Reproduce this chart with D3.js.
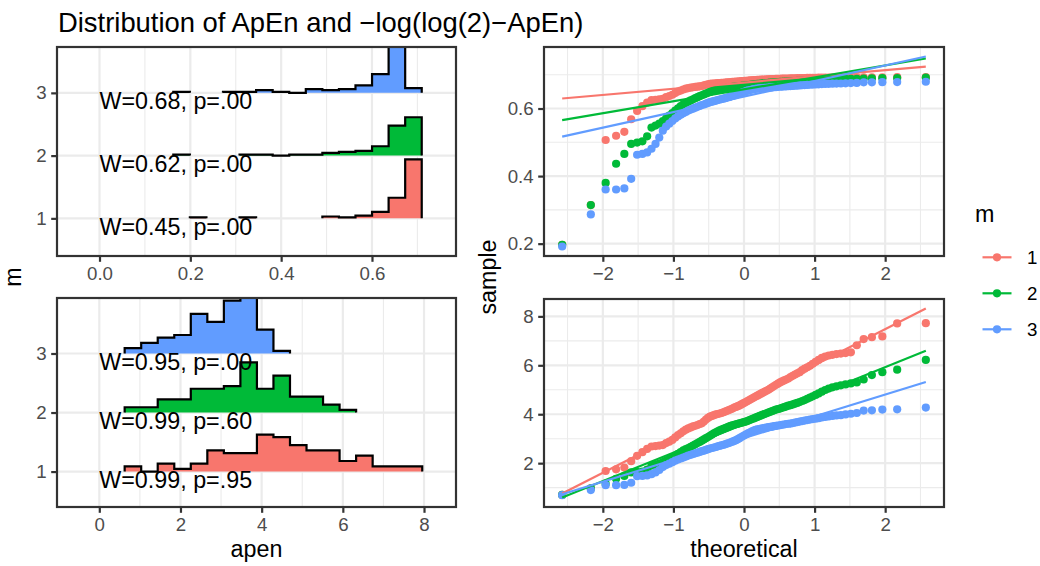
<!DOCTYPE html>
<html>
<head>
<meta charset="utf-8">
<script src="https://cdn.jsdelivr.net/npm/d3@7"></script>
<style>
  body { margin: 0; background: #fff; }
  text { font-family: "Liberation Sans", Arial, sans-serif; }
</style>
</head>
<body>
<script>
// ---- data -------------------------------------------------------------
var groups = [1, 2, 3];
var groupColors = ['#F8766D', '#00BA38', '#619CFF'];

// histogram bins (ridgelines): first edge, width, number of bins
var apenBinStart = 0.1625, apenBinWidth = 0.03647, apenBinCount = 15;
var tBinStart = 0.625, tBinWidth = 0.4073, tBinCount = 18;

// bin counts per m, ApEn scale
var apenCounts1 = [0, 1, 0, 0, 1, 0, 0, 0, 0, 2, 1, 3, 7, 22, 63];
var apenCounts2 = [1, 0, 0, 0, 1, 1, 0, 1, 1, 3, 4, 5, 10, 32, 41];
var apenCounts3 = [1, 0, 0, 1, 1, 3, 1, 0, 4, 3, 4, 8, 20, 49, 5];

// bin counts per m, -log(log(2)-ApEn) scale
var tCounts1 = [2, 0, 3, 1, 3, 8, 7, 7, 14, 13, 10, 8, 8, 4, 6, 2, 2, 2];
var tCounts2 = [2, 2, 5, 5, 9, 9, 10, 19, 9, 14, 6, 6, 3, 1, 0, 0, 0, 0];
var tCounts3 = [2, 4, 6, 7, 15, 12, 20, 21, 9, 1, 0, 0, 0, 0, 0, 0, 0, 0];

var shapiroApen = ['W=0.45, p=.00', 'W=0.62, p=.00', 'W=0.68, p=.00'];
var shapiroT = ['W=0.99, p=.95', 'W=0.99, p=.60', 'W=0.95, p=.00'];

// sorted samples of -log(log(2)-ApEn), 100 per m
var sampleT1 = [0.70, 0.97, 1.68, 1.75, 1.82, 2.08, 2.30, 2.45, 2.58, 2.68,
  2.70, 2.72, 2.74, 2.82, 2.88, 2.95, 3.05, 3.15, 3.22, 3.30,
  3.37, 3.42, 3.46, 3.50, 3.53, 3.56, 3.60, 3.63, 3.70, 3.78,
  3.85, 3.90, 3.93, 3.96, 3.99, 4.01, 4.03, 4.05, 4.08, 4.11,
  4.14, 4.17, 4.20, 4.23, 4.27, 4.30, 4.33, 4.36, 4.40, 4.44,
  4.48, 4.52, 4.56, 4.60, 4.64, 4.68, 4.72, 4.76, 4.80, 4.84,
  4.88, 4.92, 4.96, 5.00, 5.05, 5.10, 5.15, 5.20, 5.25, 5.30,
  5.34, 5.38, 5.42, 5.46, 5.52, 5.57, 5.62, 5.67, 5.72, 5.80,
  5.86, 5.92, 5.98, 6.06, 6.14, 6.22, 6.30, 6.36, 6.40, 6.43,
  6.46, 6.48, 6.50, 6.53, 6.82, 7.07, 7.15, 7.18, 7.71, 7.72];
var sampleT2 = [0.70, 0.97, 1.16, 1.36, 1.48, 1.62, 1.64, 1.66, 1.74, 1.90,
  1.94, 1.98, 2.04, 2.10, 2.17, 2.24, 2.31, 2.38, 2.45, 2.52,
  2.57, 2.62, 2.67, 2.72, 2.77, 2.82, 2.87, 2.92, 2.97, 3.02,
  3.07, 3.12, 3.17, 3.22, 3.26, 3.30, 3.34, 3.37, 3.40, 3.43,
  3.46, 3.49, 3.52, 3.55, 3.57, 3.59, 3.61, 3.63, 3.65, 3.67,
  3.69, 3.71, 3.74, 3.77, 3.80, 3.83, 3.86, 3.89, 3.92, 3.95,
  3.98, 4.01, 4.04, 4.07, 4.10, 4.13, 4.16, 4.19, 4.21, 4.23,
  4.26, 4.29, 4.32, 4.35, 4.37, 4.40, 4.43, 4.46, 4.50, 4.54,
  4.58, 4.63, 4.68, 4.73, 4.79, 4.85, 4.92, 4.99, 5.05, 5.10,
  5.14, 5.18, 5.22, 5.26, 5.30, 5.42, 5.60, 5.72, 5.82, 6.22];
var sampleT3 = [0.69, 0.90, 1.10, 1.10, 1.11, 1.20, 1.47, 1.48, 1.50, 1.55,
  1.62, 1.72, 1.84, 1.92, 1.98, 2.04, 2.10, 2.15, 2.19, 2.23,
  2.27, 2.31, 2.34, 2.37, 2.40, 2.43, 2.46, 2.49, 2.51, 2.54,
  2.57, 2.60, 2.62, 2.64, 2.66, 2.69, 2.71, 2.73, 2.75, 2.77,
  2.80, 2.82, 2.85, 2.88, 2.91, 2.94, 2.98, 3.02, 3.07, 3.11,
  3.15, 3.19, 3.23, 3.26, 3.30, 3.33, 3.36, 3.38, 3.39, 3.41,
  3.42, 3.44, 3.45, 3.47, 3.48, 3.49, 3.51, 3.52, 3.54, 3.55,
  3.57, 3.58, 3.60, 3.61, 3.62, 3.64, 3.66, 3.68, 3.70, 3.72,
  3.74, 3.76, 3.78, 3.80, 3.82, 3.84, 3.87, 3.89, 3.91, 3.93,
  3.95, 3.96, 3.99, 4.02, 4.05, 4.15, 4.16, 4.19, 4.20, 4.27];

// ---- helpers ----------------------------------------------------------
var FONT = '"Liberation Sans", Arial, sans-serif';
var ridgeScale = 0.94;
var clipId = 0;

var svg = d3.select('body').append('svg')
    .attr('width', 1040).attr('height', 566);

// inverse normal cdf (Acklam)
function qnorm(p){
  var a = [-39.69683028665376, 220.9460984245205, -275.9285104469687, 138.3577518672690, -30.66479806614716, 2.506628277459239]
    , b = [-54.47609879822406, 161.5858368580409, -155.6989798598866, 66.80131188771972, -13.28068155288572]
    , c = [-0.007784894002430293, -0.3223964580411365, -2.400758277161838, -2.549732539343734, 4.374664141464968, 2.938163982698783]
    , d = [0.007784695709041462, 0.3224671290700398, 2.445134137142996, 3.754408661907416]
    , pl = 0.02425, q, r;
  if(p < pl){
    q = Math.sqrt(-2 * Math.log(p));
    return (((((c[0]*q+c[1])*q+c[2])*q+c[3])*q+c[4])*q+c[5]) / ((((d[0]*q+d[1])*q+d[2])*q+d[3])*q+1);
  }
  if(p > 1 - pl){
    q = Math.sqrt(-2 * Math.log(1 - p));
    return -(((((c[0]*q+c[1])*q+c[2])*q+c[3])*q+c[4])*q+c[5]) / ((((d[0]*q+d[1])*q+d[2])*q+d[3])*q+1);
  }
  q = p - 0.5; r = q * q;
  return (((((a[0]*r+a[1])*r+a[2])*r+a[3])*r+a[4])*r+a[5])*q / (((((b[0]*r+b[1])*r+b[2])*r+b[3])*r+b[4])*r+1);
}

function toApen(t){ return Math.log(2) - Math.exp(-t); }

function panel(box, xs, ys, xMajor, xMinor, yMajor, yMinor, xfmt, yfmt){
  var g = svg.append('g')
    , id = 'clip' + (clipId++);

  g.append('clipPath').attr('id', id).append('rect')
    .attr('x', box.x0).attr('y', box.y0)
    .attr('width', box.x1 - box.x0).attr('height', box.y1 - box.y0);

  g.append('rect').attr('x', box.x0).attr('y', box.y0)
    .attr('width', box.x1 - box.x0).attr('height', box.y1 - box.y0)
    .attr('fill', '#fff');

  var grid = g.append('g');
  function vlines(vals, w){
    grid.selectAll(null).data(vals).enter().append('line')
      .attr('x1', xs).attr('x2', xs).attr('y1', box.y0).attr('y2', box.y1)
      .attr('stroke', '#EBEBEB').attr('stroke-width', w);
  }
  function hlines(vals, w){
    grid.selectAll(null).data(vals).enter().append('line')
      .attr('y1', ys).attr('y2', ys).attr('x1', box.x0).attr('x2', box.x1)
      .attr('stroke', '#EBEBEB').attr('stroke-width', w);
  }
  vlines(xMinor, 1.1); hlines(yMinor, 1.1);
  vlines(xMajor, 2.2); hlines(yMajor, 2.2);

  var plot = g.append('g').attr('clip-path', 'url(#' + id + ')');

  g.append('rect').attr('x', box.x0).attr('y', box.y0)
    .attr('width', box.x1 - box.x0).attr('height', box.y1 - box.y0)
    .attr('fill', 'none').attr('stroke', '#333333').attr('stroke-width', 2.2);

  var xa = g.append('g').attr('transform', 'translate(0,' + box.y1 + ')')
      .call(d3.axisBottom(xs).tickValues(xMajor).tickSize(5.8).tickPadding(4.6).tickFormat(xfmt))
    , ya = g.append('g').attr('transform', 'translate(' + box.x0 + ',0)')
      .call(d3.axisLeft(ys).tickValues(yMajor).tickSize(5.8).tickPadding(4.6).tickFormat(yfmt));

  [xa, ya].forEach(function(a){
    a.attr('font-family', FONT).attr('font-size', 18.7);
    a.select('.domain').remove();
    a.selectAll('line').attr('stroke', '#333333').attr('stroke-width', 2.2);
    a.selectAll('text').attr('fill', '#4D4D4D');
  });

  return plot;
}

// ---- ridgeline histograms --------------------------------------------
function ridges(box, xDomain, binStart, binWidth, binCount, countSets, labels, xMajor, xMinor, xfmt){
  var maxCount = d3.max(countSets, function(c){ return d3.max(c); })
    , edges = d3.range(binCount + 1).map(function(i){ return binStart + i * binWidth; })
    , top = d3.max(countSets, function(c, i){ return groups[i] + d3.max(c) / maxCount * ridgeScale; })
    , xs = d3.scaleLinear().domain(xDomain).range([box.x0, box.x1])
    , ys = d3.scaleLinear().domain([0.4, top]).range([box.y1, box.y0]);

  var plot = panel(box, xs, ys, xMajor, xMinor, groups, [], xfmt, d3.format('d'));

  // back ridge (m = 3) first, front ridge (m = 1) last
  for(var k = groups.length - 1; k >= 0; k--){
    var base = groups[k]
      , pts = [{x: edges[0], h: 0}];
    countSets[k].forEach(function(c, i){
      var h = c / maxCount * ridgeScale;
      pts.push({x: edges[i], h: h}, {x: edges[i + 1], h: h});
    });
    pts.push({x: edges[binCount], h: 0});
    pts.forEach(function(p, i){
      var prev = pts[i - 1], next = pts[i + 1];
      p.on = !(p.h === 0 && (!prev || prev.h === 0) && (!next || next.h === 0));
    });

    plot.append('path').datum(pts)
      .attr('fill', groupColors[k])
      .attr('d', d3.area()
        .x(function(d){ return xs(d.x); })
        .y0(ys(base))
        .y1(function(d){ return ys(base + d.h); }));

    plot.append('path').datum(pts)
      .attr('fill', 'none').attr('stroke', '#000').attr('stroke-width', 2.2)
      .attr('d', d3.line()
        .defined(function(d){ return d.on; })
        .x(function(d){ return xs(d.x); })
        .y(function(d){ return ys(base + d.h); }));
  }

  plot.selectAll('text.lab').data(labels).enter().append('text')
    .attr('x', xs(0)).attr('y', function(d, i){ return ys(groups[i]) + 16.2; })
    .attr('font-size', 23.3).attr('fill', '#000')
    .text(function(d){ return d; });
}

// ---- QQ plots ----------------------------------------------------------
function qqPanel(box, samples, yMajor, yMinor, yfmt){
  var n = samples[0].length
    , theo = d3.range(1, n + 1).map(function(i){ return qnorm((i - 0.5) / n); })
    , z1 = qnorm(0.25), z3 = qnorm(0.75)
    , zmin = d3.min(theo), zmax = d3.max(theo)
    , lines = samples.map(function(s){
        var q1 = d3.quantile(s, 0.25), q3 = d3.quantile(s, 0.75)
          , slope = (q3 - q1) / (z3 - z1), icpt = q1 - slope * z1;
        return [[zmin, icpt + slope * zmin], [zmax, icpt + slope * zmax]];
      })
    , yAll = d3.merge(samples).concat(d3.merge(lines.map(function(l){ return [l[0][1], l[1][1]]; })))
    , ylo = d3.min(yAll), yhi = d3.max(yAll)
    , xpad = (zmax - zmin) * 0.05, ypad = (yhi - ylo) * 0.05
    , xs = d3.scaleLinear().domain([zmin - xpad, zmax + xpad]).range([box.x0, box.x1])
    , ys = d3.scaleLinear().domain([ylo - ypad, yhi + ypad]).range([box.y1, box.y0]);

  var plot = panel(box, xs, ys, [-2, -1, 0, 1, 2], [-2.5, -1.5, -0.5, 0.5, 1.5, 2.5],
                   yMajor, yMinor, d3.format('d'), yfmt);

  samples.forEach(function(s, k){
    plot.append('g').selectAll('circle').data(s).enter().append('circle')
      .attr('cx', function(d, i){ return xs(theo[i]); })
      .attr('cy', function(d){ return ys(d); })
      .attr('r', 4.1).attr('fill', groupColors[k]);
  });
  lines.forEach(function(l, k){
    plot.append('line')
      .attr('x1', xs(l[0][0])).attr('y1', ys(l[0][1]))
      .attr('x2', xs(l[1][0])).attr('y2', ys(l[1][1]))
      .attr('stroke', groupColors[k]).attr('stroke-width', 2.2);
  });
}

// ---- layout ------------------------------------------------------------
var boxTL = {x0: 57, x1: 456, y0: 47, y1: 256}
  , boxBL = {x0: 57, x1: 456, y0: 298, y1: 507}
  , boxTR = {x0: 544, x1: 944, y0: 47, y1: 256}
  , boxBR = {x0: 544, x1: 944, y0: 299, y1: 507};

ridges(boxTL, [-0.0936, 0.785], apenBinStart, apenBinWidth, apenBinCount,
       [apenCounts1, apenCounts2, apenCounts3], shapiroApen,
       [0, 0.2, 0.4, 0.6], [0.1, 0.3, 0.5, 0.7], d3.format('.1f'));
ridges(boxBL, [-1.042, 8.788], tBinStart, tBinWidth, tBinCount,
       [tCounts1, tCounts2, tCounts3], shapiroT,
       [0, 2, 4, 6, 8], [1, 3, 5, 7], d3.format('d'));

var samplesT = [sampleT1, sampleT2, sampleT3]
  , samplesApen = samplesT.map(function(s){ return s.map(toApen); });

qqPanel(boxTR, samplesApen, [0.2, 0.4, 0.6], [0.3, 0.5, 0.7], d3.format('.1f'));
qqPanel(boxBR, samplesT, [2, 4, 6, 8], [1, 3, 5, 7], d3.format('d'));

// ---- titles ------------------------------------------------------------
svg.append('text').attr('x', 58).attr('y', 32)
  .attr('font-size', 27.4).attr('fill', '#000')
  .text('Distribution of ApEn and \u2212log(log(2)\u2212ApEn)');

svg.append('text').attr('transform', 'translate(21,277) rotate(-90)')
  .attr('text-anchor', 'middle').attr('font-size', 23.3).text('m');
svg.append('text').attr('transform', 'translate(496,277) rotate(-90)')
  .attr('text-anchor', 'middle').attr('font-size', 23.3).text('sample');
svg.append('text').attr('x', (boxBL.x0 + boxBL.x1) / 2).attr('y', 557)
  .attr('text-anchor', 'middle').attr('font-size', 23.3).text('apen');
svg.append('text').attr('x', (boxBR.x0 + boxBR.x1) / 2).attr('y', 557)
  .attr('text-anchor', 'middle').attr('font-size', 23.3).text('theoretical');

// ---- legend ------------------------------------------------------------
var legend = svg.append('g');
legend.append('text').attr('x', 975).attr('y', 222).attr('font-size', 23.3).text('m');
var key = legend.selectAll('g.key').data(groups).enter().append('g')
  .attr('transform', function(d, i){ return 'translate(997,' + (257.3 + i * 36) + ')'; });
key.append('line').attr('x1', -14.5).attr('x2', 14.5)
  .attr('stroke', function(d, i){ return groupColors[i]; }).attr('stroke-width', 2.2);
key.append('circle').attr('r', 4.1).attr('fill', function(d, i){ return groupColors[i]; });
key.append('text').attr('x', 30).attr('dy', '0.36em').attr('font-size', 18.7)
  .text(function(d){ return d; });
</script>
</body>
</html>
